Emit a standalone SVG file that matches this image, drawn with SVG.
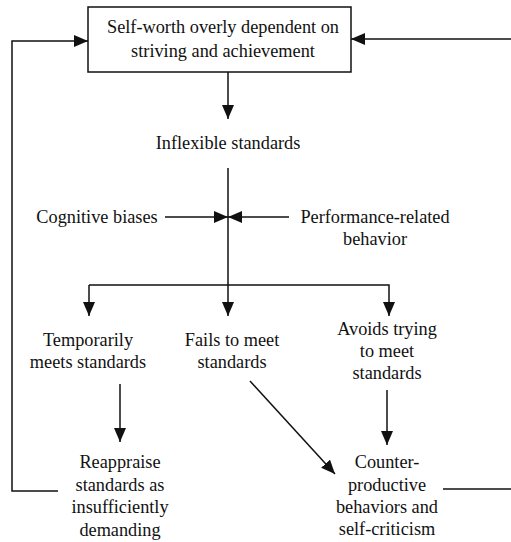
<svg xmlns="http://www.w3.org/2000/svg" width="511" height="542" viewBox="0 0 511 542">
<style>
text{font-family:"Liberation Serif","Times New Roman",serif;font-size:18.3px;fill:#111;text-anchor:middle}
.l{stroke:#111;stroke-width:1.5;fill:none}
</style>
<defs>
<marker id="a" markerUnits="userSpaceOnUse" markerWidth="14" markerHeight="12" refX="14" refY="6" orient="auto">
<path d="M0,0 L14,6 L0,12 Z" fill="#111"/>
</marker>
</defs>
<rect width="511" height="542" fill="#fff"/>
<g id="connectors">
<line class="l" x1="228" y1="72" x2="228" y2="119" marker-end="url(#a)"/>
<line class="l" x1="228" y1="168" x2="228" y2="316" marker-end="url(#a)"/>
<line class="l" x1="165" y1="217" x2="228" y2="217" marker-end="url(#a)"/>
<line class="l" x1="289" y1="217" x2="228" y2="217" marker-end="url(#a)"/>
<polyline class="l" points="89,285 389,285 389,316" marker-end="url(#a)"/>
<polyline class="l" points="89,285 89,316" marker-end="url(#a)"/>
<line class="l" x1="120" y1="384" x2="120" y2="442" marker-end="url(#a)"/>
<line class="l" x1="387" y1="390" x2="387" y2="445" marker-end="url(#a)"/>
<line class="l" x1="250" y1="381" x2="335" y2="474" marker-end="url(#a)"/>
<polyline class="l" points="58,491 12,491 12,41 88,41" marker-end="url(#a)"/>
<polyline class="l" points="443,489 511,489"/>
<polyline class="l" points="511,39 351,39" marker-end="url(#a)"/>
</g>
<g id="self-worth">
<rect x="88" y="7" width="263" height="65" fill="#fff" stroke="#111" stroke-width="1.5"/>
<text x="223" y="33">Self-worth overly dependent on</text>
<text x="223" y="57">striving and achievement</text>
</g>
<g id="inflexible"><text x="228" y="149">Inflexible standards</text></g>
<g id="cognitive"><text x="97" y="223">Cognitive biases</text></g>
<g id="performance"><text x="375" y="223">Performance-related</text><text x="375" y="245">behavior</text></g>
<g id="temporarily"><text x="88" y="346">Temporarily</text><text x="88" y="368">meets standards</text></g>
<g id="fails"><text x="232" y="346">Fails to meet</text><text x="232" y="368">standards</text></g>
<g id="avoids"><text x="387" y="335">Avoids trying</text><text x="387" y="357">to meet</text><text x="387" y="379">standards</text></g>
<g id="reappraise"><text x="120" y="468">Reappraise</text><text x="120" y="491">standards as</text><text x="120" y="513">insufficiently</text><text x="120" y="536">demanding</text></g>
<g id="counter"><text x="387" y="468">Counter-</text><text x="387" y="491">productive</text><text x="387" y="513">behaviors and</text><text x="387" y="535">self-criticism</text></g>
</svg>
